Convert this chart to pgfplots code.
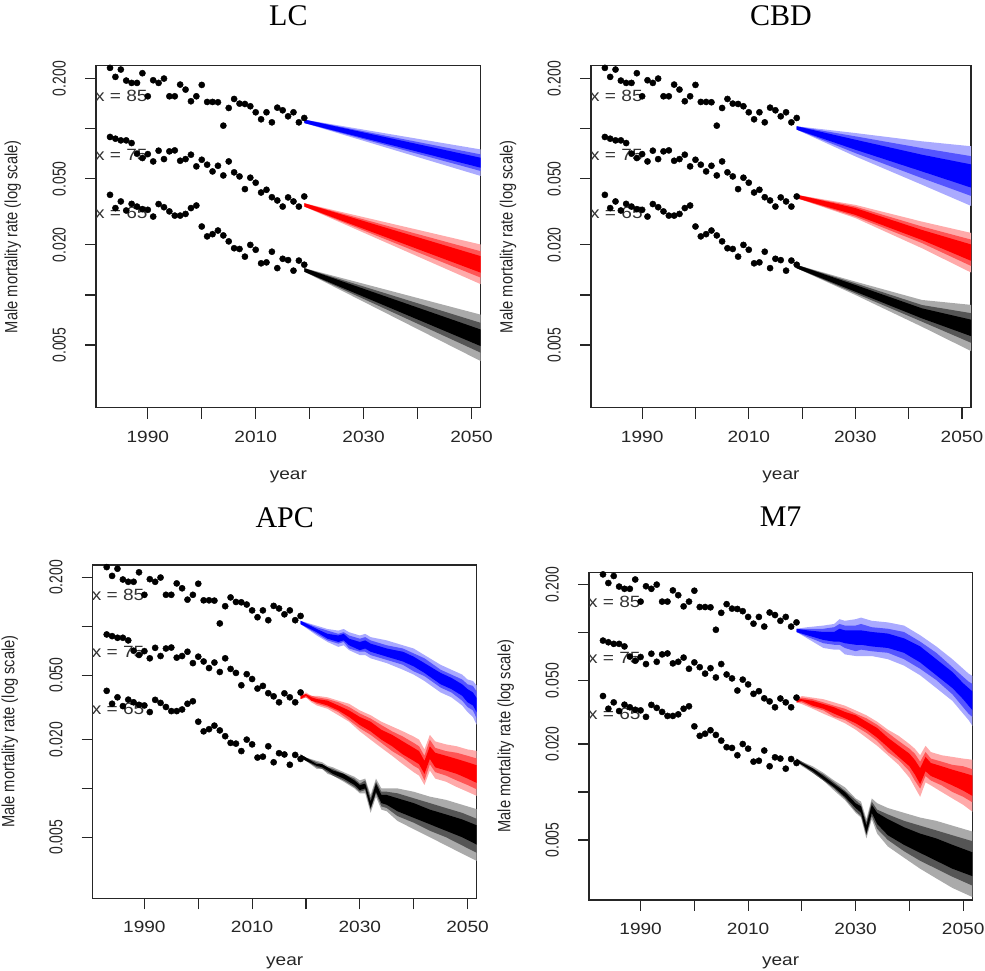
\documentclass[border=0pt]{standalone}
\usepackage{fontspec}
\setmainfont{Liberation Sans}
\newfontfamily\xtfam{Liberation Sans}[FakeStretch=1.17]
\newfontfamily\ytfam{Liberation Sans}[FakeStretch=0.75]
\newfontfamily\ylfam{Liberation Sans}[FakeStretch=0.83]
\newfontfamily\ttfam{Liberation Serif}
\usepackage{pgfplots}
\pgfplotsset{compat=1.18}
\usepackage{pgfplotstable}

\newcommand\xtfont{\xtfam\fontsize{16.3}{18}\selectfont}
\newcommand\ytfont{\ytfam\fontsize{18.6}{20}\selectfont}
\newcommand\ylfont{\ylfam\fontsize{17.7}{20}\selectfont}
\newcommand\ttfont{\ttfam\fontsize{30}{32}\selectfont}

\definecolor{bD}{HTML}{0000FF}
\definecolor{bM}{HTML}{5555FF}
\definecolor{bL}{HTML}{AAAAFF}
\definecolor{rD}{HTML}{FF0000}
\definecolor{rM}{HTML}{FF5555}
\definecolor{rL}{HTML}{FFAAAA}
\definecolor{kD}{HTML}{000000}
\definecolor{kM}{HTML}{555555}
\definecolor{kL}{HTML}{AAAAAA}

\pgfplotstableread{
yr a65 a75 a85
1983 0.0400 0.0891 0.2319
1984 0.0333 0.0870 0.2047
1985 0.0365 0.0850 0.2266
1986 0.0322 0.0850 0.1945
1987 0.0353 0.0819 0.1883
1988 0.0340 0.0707 0.1883
1989 0.0328 0.0666 0.2154
1990 0.0325 0.0703 0.1565
1991 0.0296 0.0635 0.1954
1992 0.0352 0.0737 0.1883
1993 0.0337 0.0656 0.2000
1994 0.0318 0.0730 0.1565
1995 0.0300 0.0740 0.1565
1996 0.0300 0.0641 0.1840
1997 0.0307 0.0656 0.1717
1998 0.0333 0.0697 0.1461
1999 0.0345 0.0593 0.1565
2000 0.0258 0.0650 0.1832
2001 0.0225 0.0607 0.1447
2002 0.0232 0.0553 0.1447
2003 0.0244 0.0598 0.1441
2004 0.0228 0.0523 0.1042
2005 0.0210 0.0635 0.1331
2006 0.0191 0.0546 0.1508
2007 0.0189 0.0516 0.1414
2008 0.0170 0.0433 0.1407
2009 0.0200 0.0507 0.1363
2010 0.0187 0.0473 0.1254
2011 0.0155 0.0413 0.1138
2012 0.0157 0.0429 0.1254
2013 0.0182 0.0387 0.1091
2014 0.0145 0.0370 0.1337
2015 0.0165 0.0340 0.1289
2016 0.0162 0.0386 0.1186
2017 0.0140 0.0365 0.1254
2018 0.0161 0.0340 0.1091
2019 0.0152 0.0391 0.1159
}\histtab

\pgfplotstableread{
yr e95 e80 e50
2019 0.1133 0.1133 0.1133
2052 0.0747 0.0697 0.0665
2052 0.0516 0.0553 0.0579
2019 0.1081 0.1081 0.1081
}\LCb
\pgfplotstableread{
yr e95 e80 e50
2019 0.0356 0.0356 0.0356
2052 0.0200 0.0182 0.0170
2052 0.0115 0.0126 0.0135
2019 0.0340 0.0340 0.0340
}\LCr
\pgfplotstableread{
yr e95 e80 e50
2019 0.0145 0.0145 0.0145
2052 0.00757 0.00675 0.00615
2052 0.00396 0.00445 0.00488
2019 0.0138 0.0138 0.0138
}\LCk

\pgfplotstableread{
yr e95 e80 e50
2019 0.1033 0.1033 0.1033
2030 0.0941 0.0899 0.0858
2042.5 0.0839 0.0764 0.0697
2052 0.0782 0.0681 0.0607
2052 0.0340 0.0391 0.0439
2042.5 0.0460 0.0504 0.0553
2030 0.0681 0.0713 0.0747
2019 0.0986 0.0986 0.0986
}\CBDb
\pgfplotstableread{
yr e95 e80 e50
2019 0.0400 0.0400 0.0400
2030 0.0348 0.0340 0.0333
2042.5 0.0276 0.0258 0.0246
2052 0.0235 0.0214 0.0200
2052 0.0135 0.0148 0.0159
2042.5 0.0191 0.0205 0.0214
2030 0.0290 0.0296 0.0303
2019 0.0382 0.0382 0.0382
}\CBDr
\pgfplotstableread{
yr e95 e80 e50
2019 0.01516 0.01516 0.01516
2030 0.01203 0.01175 0.01148
2042.5 0.00933 0.00870 0.00831
2052 0.00870 0.00775 0.00707
2052 0.00455 0.00511 0.00561
2042.5 0.00644 0.00691 0.00723
2030 0.01000 0.01023 0.01047
2019 0.01447 0.01447 0.01447
}\CBDk

\pgfplotstableread{
yr e95 e80 e50
2019 0.1081 0.1081 0.1081
2022 0.1009 0.0986 0.0963
2024 0.0963 0.0941 0.0899
2026 0.0941 0.0899 0.0878
2027 0.0963 0.0920 0.0899
2028 0.0920 0.0878 0.0839
2030 0.0878 0.0839 0.0801
2031 0.0899 0.0858 0.0819
2032 0.0858 0.0819 0.0782
2035 0.0819 0.0764 0.0730
2038 0.0764 0.0730 0.0697
2040 0.0730 0.0681 0.0650
2042 0.0665 0.0635 0.0593
2045 0.0579 0.0540 0.0516
2047 0.0540 0.0504 0.0481
2049 0.0504 0.0470 0.0439
2050 0.0470 0.0439 0.0410
2051 0.0460 0.0429 0.0391
2052 0.0419 0.0382 0.0348
2052 0.0235 0.0258 0.0283
2051 0.0276 0.0303 0.0325
2050 0.0296 0.0318 0.0340
2049 0.0325 0.0348 0.0373
2047 0.0365 0.0391 0.0410
2045 0.0391 0.0419 0.0439
2042 0.0460 0.0493 0.0516
2040 0.0504 0.0528 0.0566
2038 0.0540 0.0579 0.0607
2035 0.0593 0.0621 0.0650
2032 0.0635 0.0665 0.0697
2031 0.0665 0.0697 0.0730
2030 0.0665 0.0697 0.0713
2028 0.0713 0.0730 0.0764
2027 0.0764 0.0801 0.0819
2026 0.0747 0.0782 0.0801
2024 0.0801 0.0819 0.0839
2022 0.0878 0.0899 0.0920
2019 0.1033 0.1033 0.1033
}\APCb
\pgfplotstableread{
yr e95 e80 e50
2019 0.0373 0.0373 0.0373
2020 0.0391 0.0382 0.0382
2021 0.0373 0.0373 0.0365
2022 0.0373 0.0365 0.0356
2024 0.0365 0.0356 0.0348
2026 0.0348 0.0340 0.0325
2028 0.0333 0.0318 0.0303
2030 0.0303 0.0290 0.0276
2032 0.0283 0.0270 0.0258
2034 0.0258 0.0246 0.0230
2036 0.0241 0.0225 0.0214
2038 0.0225 0.0209 0.0195
2040 0.0209 0.0191 0.0178
2041 0.0200 0.0182 0.0170
2042 0.0174 0.0159 0.0148
2043 0.0214 0.0200 0.0182
2044 0.0195 0.0178 0.0166
2046 0.0187 0.0170 0.0159
2048 0.0182 0.0166 0.0152
2050 0.0174 0.0159 0.0145
2052 0.0170 0.0152 0.0138
2052 0.00890 0.00977 0.0107
2050 0.00954 0.0105 0.0115
2048 0.0102 0.0112 0.0123
2046 0.0110 0.0120 0.0129
2044 0.0115 0.0126 0.0135
2043 0.0129 0.0141 0.0152
2042 0.0105 0.0112 0.0123
2041 0.0120 0.0132 0.0141
2040 0.0126 0.0138 0.0148
2038 0.0141 0.0155 0.0162
2036 0.0159 0.0170 0.0182
2034 0.0178 0.0191 0.0200
2032 0.0200 0.0214 0.0225
2030 0.0225 0.0235 0.0246
2028 0.0258 0.0264 0.0276
2026 0.0283 0.0296 0.0303
2024 0.0310 0.0318 0.0325
2022 0.0325 0.0333 0.0340
2021 0.0340 0.0348 0.0348
2020 0.0365 0.0365 0.0373
2019 0.0356 0.0356 0.0356
}\APCr
\pgfplotstableread{
yr e95 e80 e50
2019 0.0162 0.0162 0.0162
2020 0.0155 0.0155 0.0155
2022 0.0148 0.0145 0.0141
2023 0.0145 0.0141 0.0141
2024 0.0138 0.0135 0.0135
2025 0.0135 0.0132 0.0129
2027 0.0126 0.0123 0.0123
2029 0.0118 0.0115 0.0112
2030 0.0112 0.0107 0.0105
2031 0.0115 0.0112 0.0107
2032 0.00911 0.00870 0.00831
2033 0.0115 0.0110 0.0107
2034 0.0100 0.00954 0.00911
2035 0.0100 0.00954 0.00911
2037 0.0100 0.00933 0.00870
2040 0.00954 0.00870 0.00812
2043 0.00890 0.00812 0.00740
2046 0.00850 0.00757 0.00691
2049 0.00793 0.00707 0.00644
2052 0.00740 0.00644 0.00587
2052 0.00353 0.00396 0.00445
2049 0.00396 0.00445 0.00500
2046 0.00445 0.00500 0.00548
2043 0.00500 0.00548 0.00601
2040 0.00561 0.00615 0.00659
2037 0.00630 0.00675 0.00723
2035 0.00723 0.00757 0.00793
2034 0.00740 0.00775 0.00812
2033 0.00890 0.00933 0.00954
2032 0.00707 0.00740 0.00757
2031 0.00933 0.00977 0.0100
2030 0.00933 0.00954 0.00977
2029 0.0100 0.0102 0.0105
2027 0.0110 0.0112 0.0115
2025 0.0120 0.0120 0.0123
2024 0.0123 0.0126 0.0129
2023 0.0132 0.0132 0.0135
2022 0.0132 0.0135 0.0138
2020 0.0148 0.0148 0.0148
2019 0.0155 0.0155 0.0155
}\APCk

\pgfplotstableread{
yr e95 e80 e50
2019 0.1057 0.1057 0.1057
2021 0.1081 0.1057 0.1033
2024 0.1107 0.1057 0.1009
2026 0.1133 0.1081 0.1009
2027 0.1214 0.1133 0.1057
2028 0.1186 0.1107 0.1033
2030 0.1214 0.1107 0.1033
2031 0.1242 0.1133 0.1033
2033 0.1186 0.1081 0.1009
2036 0.1159 0.1057 0.0986
2039 0.1107 0.1009 0.0920
2042 0.0963 0.0878 0.0819
2045 0.0819 0.0747 0.0681
2048 0.0681 0.0607 0.0566
2050 0.0593 0.0528 0.0481
2051 0.0553 0.0493 0.0449
2052 0.0528 0.0470 0.0419
2052 0.0252 0.0290 0.0318
2051 0.0283 0.0310 0.0348
2050 0.0310 0.0340 0.0382
2048 0.0373 0.0410 0.0449
2045 0.0449 0.0504 0.0540
2042 0.0540 0.0593 0.0650
2039 0.0621 0.0681 0.0747
2036 0.0681 0.0747 0.0801
2033 0.0713 0.0764 0.0819
2031 0.0713 0.0782 0.0839
2030 0.0713 0.0764 0.0839
2028 0.0730 0.0801 0.0858
2027 0.0782 0.0839 0.0878
2026 0.0782 0.0839 0.0878
2024 0.0801 0.0858 0.0899
2021 0.0920 0.0941 0.0963
2019 0.1009 0.1009 0.1009
}\MSb
\pgfplotstableread{
yr e95 e80 e50
2019 0.0382 0.0382 0.0382
2020 0.0400 0.0391 0.0382
2022 0.0391 0.0382 0.0373
2024 0.0382 0.0365 0.0356
2026 0.0365 0.0348 0.0340
2028 0.0348 0.0333 0.0318
2030 0.0325 0.0310 0.0303
2032 0.0303 0.0290 0.0276
2034 0.0276 0.0264 0.0252
2036 0.0246 0.0235 0.0219
2038 0.0225 0.0209 0.0195
2040 0.0200 0.0187 0.0174
2041 0.0187 0.0174 0.0159
2042 0.0170 0.0155 0.0141
2043 0.0195 0.0178 0.0166
2044 0.0178 0.0162 0.0152
2046 0.0170 0.0155 0.0145
2048 0.0166 0.0148 0.0138
2050 0.0162 0.0145 0.0132
2052 0.0159 0.0138 0.0126
2052 0.00740 0.00850 0.00933
2050 0.00831 0.00933 0.0102
2048 0.00911 0.0100 0.0110
2046 0.0100 0.0110 0.0118
2044 0.0110 0.0118 0.0126
2043 0.0115 0.0126 0.0135
2042 0.00933 0.0105 0.0112
2041 0.0107 0.0118 0.0129
2040 0.0123 0.0135 0.0145
2038 0.0148 0.0159 0.0166
2036 0.0170 0.0178 0.0191
2034 0.0195 0.0209 0.0219
2032 0.0219 0.0235 0.0246
2030 0.0246 0.0258 0.0270
2028 0.0270 0.0283 0.0290
2026 0.0290 0.0296 0.0310
2024 0.0310 0.0325 0.0333
2022 0.0333 0.0340 0.0348
2020 0.0356 0.0365 0.0373
2019 0.0365 0.0365 0.0365
}\MSr
\pgfplotstableread{
yr e95 e80 e50
2019 0.0162 0.0162 0.0162
2020 0.0155 0.0155 0.0152
2022 0.0145 0.0141 0.0141
2024 0.0132 0.0129 0.0126
2026 0.0118 0.0115 0.0112
2028 0.0107 0.0102 0.0100
2030 0.00911 0.00890 0.00850
2031 0.00870 0.00831 0.00812
2032 0.00675 0.00644 0.00615
2033 0.00911 0.00870 0.00831
2034 0.00850 0.00775 0.00740
2036 0.00793 0.00723 0.00675
2039 0.00740 0.00659 0.00601
2042 0.00691 0.00615 0.00548
2045 0.00659 0.00574 0.00511
2048 0.00615 0.00535 0.00466
2052 0.00561 0.00488 0.00415
2052 0.00217 0.00256 0.00294
2048 0.00250 0.00294 0.00330
2045 0.00287 0.00330 0.00370
2042 0.00330 0.00370 0.00415
2039 0.00387 0.00425 0.00466
2036 0.00455 0.00500 0.00535
2034 0.00548 0.00587 0.00630
2033 0.00675 0.00707 0.00740
2032 0.00511 0.00535 0.00548
2031 0.00691 0.00707 0.00740
2030 0.00740 0.00757 0.00793
2028 0.00890 0.00911 0.00933
2026 0.0102 0.0105 0.0107
2024 0.0118 0.0118 0.0120
2022 0.0132 0.0132 0.0135
2020 0.0145 0.0148 0.0148
2019 0.0155 0.0155 0.0155
}\MSk

\newcommand\fan[4]{%
  \addplot[fill=#2,draw=none,mark=none,forget plot] table[x=yr,y=e95]{#1};
  \addplot[fill=#3,draw=none,mark=none,forget plot] table[x=yr,y=e80]{#1};
  \addplot[fill=#4,draw=none,mark=none,forget plot] table[x=yr,y=e50]{#1};
}
\newcommand\histdots{%
  \addplot[only marks,mark=*,mark size=3.1pt,black,forget plot] table[x=yr,y=a85]{\histtab};
  \addplot[only marks,mark=*,mark size=3.1pt,black,forget plot] table[x=yr,y=a75]{\histtab};
  \addplot[only marks,mark=*,mark size=3.1pt,black,forget plot] table[x=yr,y=a65]{\histtab};
  \node[anchor=west,inner sep=0pt,font=\xtfont,text=black!80] at (axis cs:1980.2,0.1565) {x = 85};
  \node[anchor=west,inner sep=0pt,font=\xtfont,text=black!80] at (axis cs:1980.2,0.0697) {x = 75};
  \node[anchor=west,inner sep=0pt,font=\xtfont,text=black!80] at (axis cs:1980.2,0.0310) {x = 65};
}

\begin{document}
\begin{tikzpicture}
\useasboundingbox (0,0) rectangle (985pt,971pt);

\begin{axis}[at={(96pt,563.3pt)}, anchor=south west, width=384.7pt, height=342pt,
  scale only axis, ymode=log,
  xmin=1980.4, xmax=2051.7, ymin=0.0021, ymax=0.239,
  axis line style={line width=1.4pt, black!85},
  tick style={line width=1.1pt, black!85},
  tick align=outside, tick pos=left, major tick length=11pt,
  xminorticks=false, yminorticks=false,
  xtick={1990,2000,2010,2020,2030,2040,2050},
  xticklabels={1990,,2010,,2030,,2050},
  ytick={0.005,0.01,0.02,0.05,0.1,0.2},
  yticklabels={0.005,,0.020,0.050,,0.200},
  xticklabel style={font=\xtfont, inner sep=0pt, anchor=north, text=black!85},
  yticklabel style={font=\ytfont, inner sep=0pt, rotate=90, anchor=south, text=black!85},
  xticklabel shift=12pt, yticklabel shift=19pt,
  xlabel={year}, ylabel={Male mortality rate (log scale)},
  xlabel style={at={(rel axis cs:0.5,-0.202)}, anchor=center, font=\xtfont, text=black!85},
  ylabel style={at={(rel axis cs:-0.216,0.5)}, anchor=center, font=\ylfont, text=black!85},
  title={LC}, title style={at={(rel axis cs:0.5,1.128)}, anchor=center, font=\ttfont}]
  \fan{\LCb}{bL}{bM}{bD}
  \fan{\LCr}{rL}{rM}{rD}
  \fan{\LCk}{kL}{kM}{kD}
  \histdots
\end{axis}

\begin{axis}[at={(591pt,563.3pt)}, anchor=south west, width=380pt, height=342pt,
  scale only axis, ymode=log,
  xmin=1980.4, xmax=2051.7, ymin=0.0021, ymax=0.239,
  axis line style={line width=1.4pt, black!85},
  tick style={line width=1.1pt, black!85},
  tick align=outside, tick pos=left, major tick length=11pt,
  xminorticks=false, yminorticks=false,
  xtick={1990,2000,2010,2020,2030,2040,2050},
  xticklabels={1990,,2010,,2030,,2050},
  ytick={0.005,0.01,0.02,0.05,0.1,0.2},
  yticklabels={0.005,,0.020,0.050,,0.200},
  xticklabel style={font=\xtfont, inner sep=0pt, anchor=north, text=black!85},
  yticklabel style={font=\ytfont, inner sep=0pt, rotate=90, anchor=south, text=black!85},
  xticklabel shift=12pt, yticklabel shift=19pt,
  xlabel={year}, ylabel={Male mortality rate (log scale)},
  xlabel style={at={(rel axis cs:0.5,-0.202)}, anchor=center, font=\xtfont, text=black!85},
  ylabel style={at={(rel axis cs:-0.218,0.5)}, anchor=center, font=\ylfont, text=black!85},
  title={CBD}, title style={at={(rel axis cs:0.5,1.128)}, anchor=center, font=\ttfont}]
  \fan{\CBDb}{bL}{bM}{bD}
  \fan{\CBDr}{rL}{rM}{rD}
  \fan{\CBDk}{kL}{kM}{kD}
  \histdots
\end{axis}

\begin{axis}[at={(92.7pt,72.7pt)}, anchor=south west, width=384pt, height=333.3pt,
  scale only axis, ymode=log,
  xmin=1980.4, xmax=2051.7, ymin=0.0021, ymax=0.239,
  axis line style={line width=1.4pt, black!85},
  tick style={line width=1.1pt, black!85},
  tick align=outside, tick pos=left, major tick length=11pt,
  xminorticks=false, yminorticks=false,
  xtick={1990,2000,2010,2020,2030,2040,2050},
  xticklabels={1990,,2010,,2030,,2050},
  ytick={0.005,0.01,0.02,0.05,0.1,0.2},
  yticklabels={0.005,,0.020,0.050,,0.200},
  xticklabel style={font=\xtfont, inner sep=0pt, anchor=north, text=black!85},
  yticklabel style={font=\ytfont, inner sep=0pt, rotate=90, anchor=south, text=black!85},
  xticklabel shift=12pt, yticklabel shift=19pt,
  xlabel={year}, ylabel={Male mortality rate (log scale)},
  xlabel style={at={(rel axis cs:0.5,-0.193)}, anchor=center, font=\xtfont, text=black!85},
  ylabel style={at={(rel axis cs:-0.216,0.5)}, anchor=center, font=\ylfont, text=black!85},
  title={APC}, title style={at={(rel axis cs:0.5,1.123)}, anchor=center, font=\ttfont}]
  \fan{\APCb}{bL}{bM}{bD}
  \fan{\APCr}{rL}{rM}{rD}
  \fan{\APCk}{kL}{kM}{kD}
  \histdots
\end{axis}

\begin{axis}[at={(589pt,71pt)}, anchor=south west, width=383.3pt, height=327.7pt,
  scale only axis, ymode=log,
  xmin=1980.4, xmax=2051.7, ymin=0.0021, ymax=0.239,
  axis line style={line width=1.4pt, black!85},
  tick style={line width=1.1pt, black!85},
  tick align=outside, tick pos=left, major tick length=11pt,
  xminorticks=false, yminorticks=false,
  xtick={1990,2000,2010,2020,2030,2040,2050},
  xticklabels={1990,,2010,,2030,,2050},
  ytick={0.005,0.01,0.02,0.05,0.1,0.2},
  yticklabels={0.005,,0.020,0.050,,0.200},
  xticklabel style={font=\xtfont, inner sep=0pt, anchor=north, text=black!85},
  yticklabel style={font=\ytfont, inner sep=0pt, rotate=90, anchor=south, text=black!85},
  xticklabel shift=12pt, yticklabel shift=19pt,
  xlabel={year}, ylabel={Male mortality rate (log scale)},
  xlabel style={at={(rel axis cs:0.5,-0.191)}, anchor=center, font=\xtfont, text=black!85},
  ylabel style={at={(rel axis cs:-0.217,0.5)}, anchor=center, font=\ylfont, text=black!85},
  title={M7}, title style={at={(rel axis cs:0.5,1.150)}, anchor=center, font=\ttfont}]
  \fan{\MSb}{bL}{bM}{bD}
  \fan{\MSr}{rL}{rM}{rD}
  \fan{\MSk}{kL}{kM}{kD}
  \histdots
\end{axis}

\end{tikzpicture}
\end{document}
